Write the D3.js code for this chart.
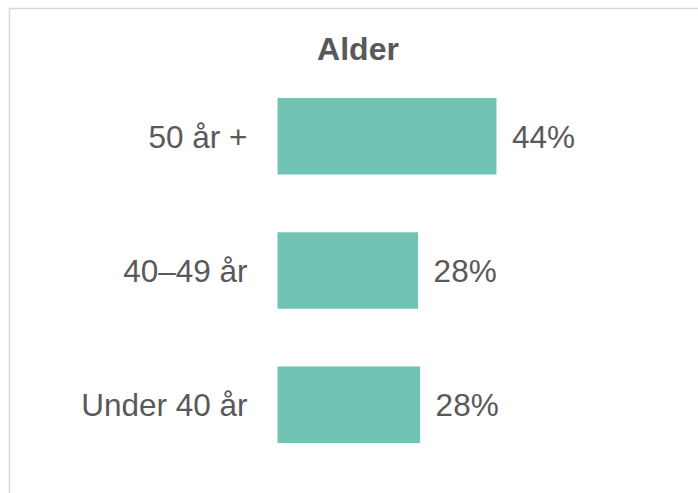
<!DOCTYPE html>
<html>
<head>
<meta charset="utf-8">
<script src="https://cdn.jsdelivr.net/npm/d3@7"></script>
<style>
  body { margin: 0; background: #fff; }
  text { font-family: "Liberation Sans", Arial, sans-serif; fill: #595959; }
</style>
</head>
<body>
<div id="chart"></div>
<script>
const categories = ["50 år +", "40–49 år", "Under 40 år"];
const values = [43.6, 28.0, 28.4];
const title = "Alder";

const width = 698;
const height = 493;

const svg = d3.select("#chart")
    .append("svg")
    .attr("width", width)
    .attr("height", height);

// chart frame (runs off the right and bottom edge)
svg.append("rect")
    .attr("x", 9.5)
    .attr("y", 8.5)
    .attr("width", 720)
    .attr("height", 520)
    .attr("fill", "none")
    .attr("stroke", "#d9d9d9")
    .attr("stroke-width", 1.5);

const data = categories.map((c, i) => ({ cat: c, val: values[i] }));

const xScale = d3.scaleLinear()
    .domain([0, 50])
    .range([277.5, 528.6]);

const yScale = d3.scaleBand()
    .domain(categories)
    .range([98, 443])
    .paddingInner(0.43)
    .paddingOuter(0);

svg.append("text")
    .attr("x", 358)
    .attr("y", 60)
    .attr("text-anchor", "middle")
    .style("font-size", "32px")
    .style("font-weight", "bold")
    .text(title);

svg.selectAll("rect.bar")
    .data(data)
    .enter()
    .append("rect")
        .attr("class", "bar")
        .attr("x", xScale(0))
        .attr("y", d => yScale(d.cat))
        .attr("width", d => xScale(d.val) - xScale(0))
        .attr("height", yScale.bandwidth())
        .attr("fill", "#71c4b4");

svg.selectAll("text.cat")
    .data(data)
    .enter()
    .append("text")
        .attr("class", "cat")
        .attr("x", xScale(0) - 30)
        .attr("y", d => yScale(d.cat) + yScale.bandwidth() / 2)
        .attr("dy", "0.36em")
        .attr("text-anchor", "end")
        .style("font-size", "31.5px")
        .text(d => d.cat);

svg.selectAll("text.val")
    .data(data)
    .enter()
    .append("text")
        .attr("class", "val")
        .attr("x", d => xScale(d.val) + 15.5)
        .attr("y", d => yScale(d.cat) + yScale.bandwidth() / 2)
        .attr("dy", "0.36em")
        .style("font-size", "31.5px")
        .text(d => d3.format(".0f")(d.val) + "%");
</script>
</body>
</html>
